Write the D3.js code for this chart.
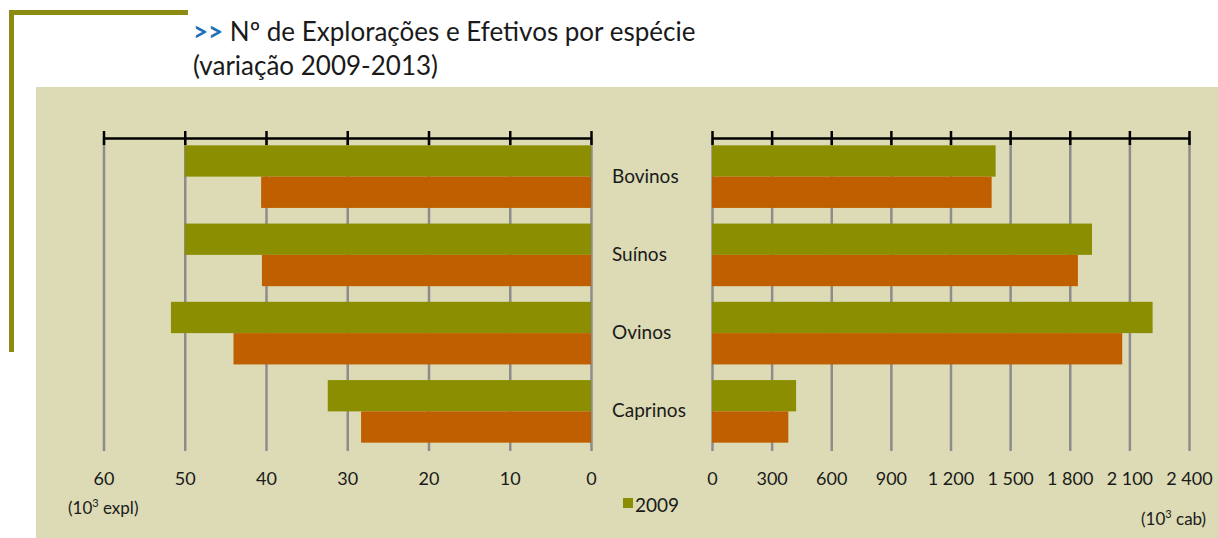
<!DOCTYPE html>
<html>
<head>
<meta charset="utf-8">
<script src="https://cdn.jsdelivr.net/npm/d3@7"></script>
<style>
  body { margin: 0; background: #fff; }
  svg { display: block; font-family: Lato, "Open Sans", sans-serif; }
</style>
</head>
<body>
<div id="chart"></div>
<script>
// dados
const categorias = ['Bovinos', 'Suínos', 'Ovinos', 'Caprinos'];
const explor2009 = [50.0, 50.0, 51.7, 32.4];   // 10^3 explorações
const explor2013 = [40.6, 40.5, 44.0, 28.3];
const efet2009 = [1427, 1912, 2217, 423];       // 10^3 cabeças
const efet2013 = [1407, 1841, 2064, 384];
const ticksExpl = [0, 10, 20, 30, 40, 50, 60];
const ticksCab = [0, 300, 600, 900, 1200, 1500, 1800, 2100, 2400];
const legenda = ['2009'];

const W = 1218, H = 538;
const verde = '#8b8e00', laranja = '#c05f00';
const grelha = '#8c8c8c', texto = '#1a1a1a';

const svg = d3.select('#chart').append('svg')
    .attr('width', W)
    .attr('height', H);

// fundo bege
svg.append('rect')
    .attr('x', 36).attr('y', 87)
    .attr('width', W - 36).attr('height', H - 87)
    .attr('fill', '#dcdbb5');

// moldura decorativa
svg.append('rect').attr('x', 9).attr('y', 10).attr('width', 179).attr('height', 5).attr('fill', '#8c8c14');
svg.append('rect').attr('x', 9).attr('y', 10).attr('width', 5).attr('height', 342).attr('fill', '#8c8c14');

// título
const t1 = svg.append('text').attr('x', 193).attr('y', 41)
    .attr('font-size', 26).attr('fill', texto);
t1.append('tspan').attr('fill', '#1c6fb6').attr('font-weight', 'bold').text('>>');
t1.append('tspan').text(' Nº de Explorações e Efetivos por espécie');
svg.append('text').attr('x', 193).attr('y', 75)
    .attr('font-size', 26).attr('fill', texto)
    .text('(variação 2009-2013)');

const yTop = 138, yBot = 451;

const y = d3.scaleBand()
    .domain(categorias)
    .range([137.5, 450.5])
    .paddingInner(0.2)
    .paddingOuter(0.1);
const bh = y.bandwidth() / 2;

const xL = d3.scaleLinear().domain([0, 60]).range([591, 103.5]);
const xR = d3.scaleLinear().domain([0, 2400]).range([712, 1189]);

const pt = d3.formatLocale({ decimal: ',', thousands: ' ', grouping: [3], currency: ['', '€'] });
const fmt = pt.format(',d');

function painel(x, ticks, v09, v13, esquerda) {
    // grelha + rótulos em baixo
    const gb = svg.append('g')
        .attr('transform', `translate(0,${yBot})`)
        .call(d3.axisBottom(x).tickValues(ticks).tickFormat(fmt)
            .tickSizeInner(-(yBot - yTop)).tickSizeOuter(0).tickPadding(21));
    gb.select('.domain').remove();
    gb.selectAll('.tick line').attr('stroke', grelha).attr('stroke-width', 2.5);
    gb.selectAll('.tick text').attr('font-size', 18).attr('fill', texto)
        .attr('font-family', 'Lato, sans-serif');

    // barras
    const g = svg.append('g');
    g.selectAll('.b09').data(categorias).enter().append('rect')
        .attr('x', (d, i) => esquerda ? x(v09[i]) : x(0))
        .attr('y', d => y(d))
        .attr('width', (d, i) => Math.abs(x(v09[i]) - x(0)))
        .attr('height', bh)
        .attr('fill', verde);
    g.selectAll('.b13').data(categorias).enter().append('rect')
        .attr('x', (d, i) => esquerda ? x(v13[i]) : x(0))
        .attr('y', d => y(d) + bh)
        .attr('width', (d, i) => Math.abs(x(v13[i]) - x(0)))
        .attr('height', bh)
        .attr('fill', laranja);

    // eixo superior
    const gt = svg.append('g')
        .attr('transform', `translate(0,${yTop})`)
        .call(d3.axisTop(x).tickValues(ticks).tickFormat('').tickSizeInner(7).tickSizeOuter(0));
    gt.select('.domain').attr('stroke', '#000').attr('stroke-width', 2.5);
    gt.selectAll('.tick line').attr('y1', 7).attr('stroke', '#000').attr('stroke-width', 2.5);
}

painel(xL, ticksExpl, explor2009, explor2013, true);
painel(xR, ticksCab, efet2009, efet2013, false);

// nomes das espécies
svg.selectAll('.cat').data(categorias).enter().append('text')
    .attr('x', 612)
    .attr('y', d => y(d) + y.bandwidth() / 2 + 6)
    .attr('font-size', 19).attr('fill', texto)
    .text(d => d);

// unidades
function unidade(xp, yp, resto) {
    const t = svg.append('text').attr('x', xp).attr('y', yp)
        .attr('font-size', 17).attr('fill', texto);
    t.append('tspan').text('(10');
    t.append('tspan').attr('font-size', 11).attr('dy', -7).text('3');
    t.append('tspan').attr('dy', 7).text(resto);
}
unidade(68, 514, ' expl)');
unidade(1141, 525, ' cab)');

// legenda
svg.append('rect').attr('x', 623).attr('y', 498).attr('width', 10).attr('height', 10).attr('fill', verde);
svg.append('text').attr('x', 635).attr('y', 512)
    .attr('font-size', 19).attr('fill', texto).text(legenda[0]);
</script>
</body>
</html>
